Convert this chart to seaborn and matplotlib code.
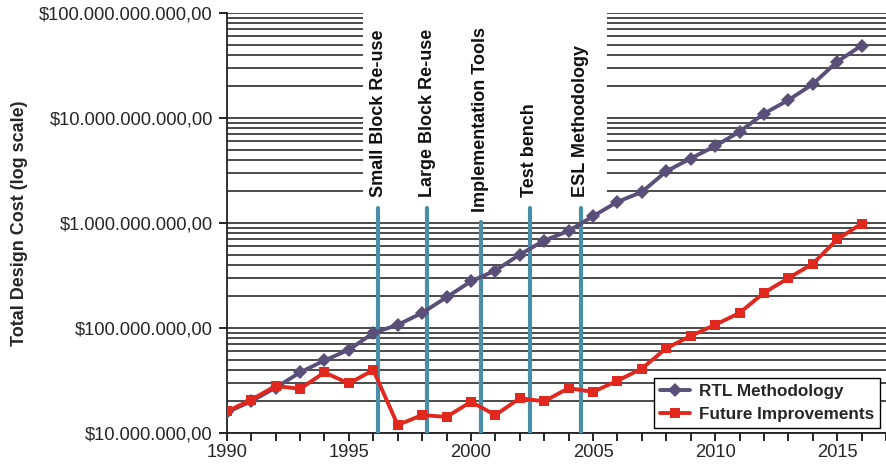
import matplotlib
matplotlib.use("Agg")
import matplotlib.pyplot as plt
import matplotlib.ticker as mticker
import seaborn as sns
import pandas as pd

# data
years = list(range(1990, 2017))
rtl_cost = [1.57e7, 2.0e7, 2.7e7, 3.77e7, 4.9e7, 6.2e7, 8.95e7, 1.07e8, 1.39e8, 1.96e8,
            2.78e8, 3.52e8, 5.0e8, 6.8e8, 8.4e8, 1.16e9, 1.59e9, 1.97e9, 3.11e9, 4.11e9,
            5.4e9, 7.4e9, 1.1e10, 1.48e10, 2.1e10, 3.44e10, 4.9e10]
future_cost = [1.6e7, 2.07e7, 2.8e7, 2.63e7, 3.77e7, 2.96e7, 3.97e7, 1.19e7, 1.48e7, 1.42e7,
               1.98e7, 1.48e7, 2.14e7, 2.0e7, 2.67e7, 2.46e7, 3.14e7, 4.1e7, 6.4e7, 8.4e7,
               1.07e8, 1.39e8, 2.16e8, 2.98e8, 4.09e8, 6.97e8, 9.85e8]

milestones = ["Small Block Re-use", "Large Block Re-use", "Implementation Tools",
              "Test bench", "ESL Methodology"]
milestone_x = [1996.2, 1998.2, 2000.4, 2002.4, 2004.5]

y_ticks = [1e7, 1e8, 1e9, 1e10, 1e11]
y_tick_labels = ["$10.000.000,00", "$100.000.000,00", "$1.000.000.000,00",
                 "$10.000.000.000,00", "$100.000.000.000,00"]
x_ticks = [1990, 1995, 2000, 2005, 2010, 2015]

df = pd.DataFrame({"year": years, "rtl": rtl_cost, "future": future_cost})

sns.set_theme(style="white")
plt.rcParams["font.family"] = ["Liberation Sans", "DejaVu Sans"]

fig = plt.figure(figsize=(8.86, 4.65), dpi=100)
ax = fig.add_axes([0.256, 0.069, 0.744, 0.903])
ax.set_yscale("log")
ax.set_ylim(1e7, 1e11)
ax.set_xlim(1990, 2017)

# horizontal grid on every decade step
ax.yaxis.set_minor_locator(mticker.LogLocator(base=10, subs=range(2, 10)))
ax.grid(True, axis="y", which="both", color="#1a1a1a", linewidth=1.1, zorder=0)
ax.grid(False, axis="x")
ax.set_axisbelow(True)

# white patch behind the milestone labels
ax.fill_between([1995.57, 2005.57], 1.3e9, 1e11, color="white", zorder=1.5, linewidth=0)

sns.lineplot(data=df, x="year", y="rtl", ax=ax, color="#5a4f78", linewidth=2.8,
             marker="D", markersize=7.5, markeredgewidth=0, label="RTL Methodology", zorder=4)
sns.lineplot(data=df, x="year", y="future", ax=ax, color="#e0281e", linewidth=2.8,
             marker="s", markersize=6.5, markeredgewidth=0, label="Future Improvements", zorder=4)

for name, xm in zip(milestones, milestone_x):
    impl = name == "Implementation Tools"
    ax.axvline(xm, ymin=0, ymax=0.502 if impl else 0.536, color="#4a8ea8", linewidth=3, zorder=3)
    y_text = 10 ** (9 + (223 - (212 if impl else 197)) / 104.7)
    ax.text(xm, y_text, name, rotation=90, ha="center", va="bottom", fontsize=13,
            fontweight="bold", color="#111111", zorder=5)

ax.set_yticks(y_ticks)
ax.set_yticklabels(y_tick_labels, fontsize=13.2)
ax.set_xticks(range(1990, 2018), minor=True)
ax.set_xticks(x_ticks)
ax.set_xticklabels([str(v) for v in x_ticks], fontsize=13.2)
ax.tick_params(axis="y", which="major", left=True, length=6, width=1.2, pad=4, color="black")
ax.tick_params(axis="y", which="minor", left=False, length=0)
ax.tick_params(axis="x", which="both", bottom=True, length=6, width=1.2, pad=2, color="black")
ax.set_xlabel("")
ax.set_ylabel("Total Design Cost (log scale)", fontsize=13, fontweight="bold", labelpad=8)

for side in ["top", "right"]:
    ax.spines[side].set_visible(False)
for side in ["left", "bottom"]:
    ax.spines[side].set_color("#222222")
    ax.spines[side].set_linewidth(1.3)

leg = ax.legend(loc="lower right", bbox_to_anchor=(0.991, 0.012), borderaxespad=0,
                frameon=True, fancybox=False, framealpha=1, edgecolor="black",
                handlelength=1.8, borderpad=0.35, labelspacing=0.45, handletextpad=0.5,
                prop={"size": 12.3, "weight": "bold"})
leg.get_frame().set_linewidth(1.0)
leg.set_zorder(6)

fig.savefig("out.png", dpi=100)
